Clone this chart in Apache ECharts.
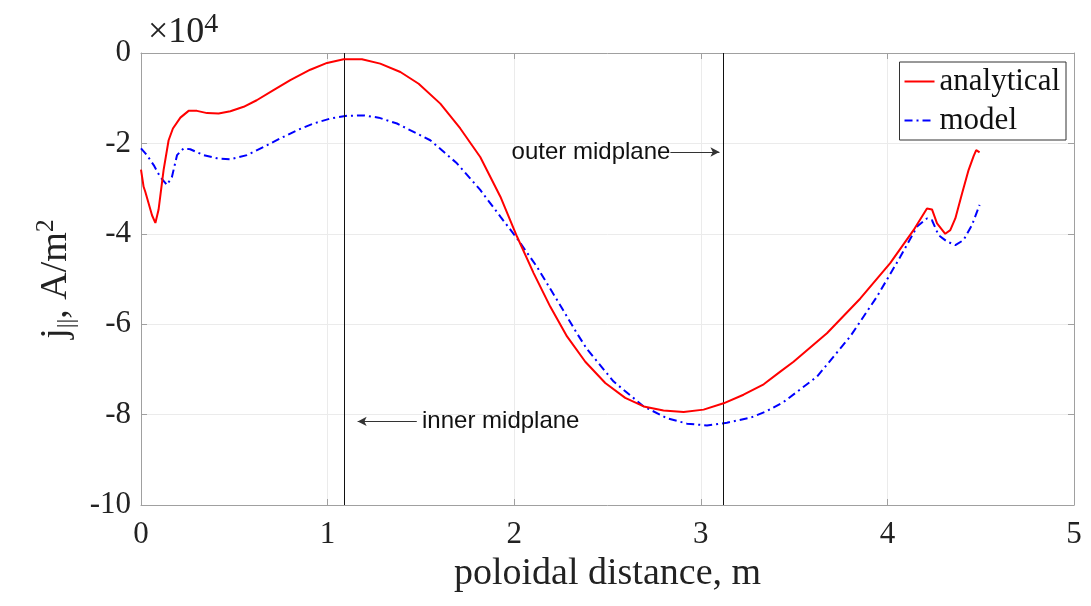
<!DOCTYPE html>
<html>
<head>
<meta charset="utf-8">
<script src="https://cdn.jsdelivr.net/npm/echarts@6/dist/echarts.min.js"></script>
<style>
html,body{margin:0;padding:0;background:#fff;}
#chart{width:1091px;height:606px;}
</style>
</head>
<body>
<div id="chart"></div>
<script>
// values in units of 10^4 A/m^2
const analyticalX = [0, 0.014, 0.023, 0.041, 0.059, 0.077, 0.094, 0.121, 0.148, 0.171, 0.211, 0.255, 0.30, 0.354, 0.416, 0.479, 0.55, 0.62, 0.71, 0.80, 0.907, 0.997, 1.086, 1.184, 1.282, 1.39, 1.488, 1.604, 1.711, 1.818, 1.926, 2.015, 2.104, 2.193, 2.283, 2.381, 2.488, 2.595, 2.694, 2.80, 2.908, 3.015, 3.122, 3.229, 3.337, 3.426, 3.497, 3.676, 3.855, 4.015, 4.14, 4.212, 4.239, 4.266, 4.31, 4.337, 4.364, 4.40, 4.435, 4.462, 4.476, 4.494];
const analyticalY = [-2.58, -2.96, -3.07, -3.33, -3.59, -3.76, -3.47, -2.59, -1.93, -1.67, -1.43, -1.28, -1.28, -1.33, -1.34, -1.29, -1.19, -1.045, -0.82, -0.60, -0.37, -0.22, -0.14, -0.14, -0.235, -0.42, -0.68, -1.12, -1.67, -2.30, -3.18, -4.06, -4.87, -5.61, -6.27, -6.83, -7.30, -7.63, -7.82, -7.91, -7.94, -7.89, -7.75, -7.56, -7.33, -7.05, -6.83, -6.20, -5.43, -4.65, -3.92, -3.44, -3.46, -3.77, -4.00, -3.92, -3.66, -3.11, -2.59, -2.28, -2.15, -2.20];
const modelX = [0, 0.032, 0.068, 0.103, 0.139, 0.166, 0.193, 0.228, 0.264, 0.336, 0.407, 0.479, 0.568, 0.657, 0.746, 0.836, 0.925, 1.014, 1.104, 1.193, 1.274, 1.372, 1.55, 1.693, 1.818, 1.926, 2.015, 2.122, 2.229, 2.336, 2.39, 2.533, 2.694, 2.819, 2.926, 3.033, 3.14, 3.265, 3.355, 3.444, 3.623, 3.801, 3.944, 4.069, 4.159, 4.212, 4.239, 4.274, 4.319, 4.364, 4.408, 4.453, 4.494];
const modelY = [-2.11, -2.26, -2.48, -2.74, -2.92, -2.74, -2.26, -2.11, -2.13, -2.26, -2.33, -2.35, -2.26, -2.08, -1.89, -1.71, -1.56, -1.45, -1.39, -1.38, -1.43, -1.56, -1.93, -2.44, -3.03, -3.62, -4.10, -4.73, -5.46, -6.20, -6.55, -7.27, -7.82, -8.08, -8.20, -8.24, -8.18, -8.07, -7.92, -7.72, -7.16, -6.27, -5.39, -4.51, -3.84, -3.66, -3.70, -4.03, -4.17, -4.25, -4.14, -3.81, -3.36];
const seriesNames = ['analytical', 'model'];
const midplaneX = [1.086, 3.124];
const annotationTexts = ['inner midplane', 'outer midplane'];
const xTicks = {min: 0, max: 5, interval: 1};
const yTicks = {min: -10, max: 0, interval: 2};

// annotation anchors (data coordinates)
const innerNote = {textX: 1.506, y: -8.15, from: 1.478, to: 1.161};
const outerNote = {textX: 2.837, y: -2.19, from: 2.837, to: 3.10};

const serif = '"Liberation Serif", "Times New Roman", serif';
const sans = '"Liberation Sans", Helvetica, Arial, sans-serif';
const axisGray = '#a0a0a0';

const pairs = (xs, ys) => xs.map((x, i) => [x, ys[i]]);

const chart = echarts.init(document.getElementById('chart'), null, {renderer: 'canvas'});

const baseAxis = {
  type: 'value',
  axisLine: {show: true, onZero: false, lineStyle: {color: axisGray, width: 1}},
  axisTick: {show: true, inside: true, length: 6, lineStyle: {color: axisGray}},
};

chart.setOption({
  animation: false,
  backgroundColor: '#fff',
  title: {
    text: '{a|×10}{b|4}',
    left: 143, top: 6,
    textStyle: {
      fontWeight: 'normal',
      rich: {
        a: {fontFamily: serif, fontSize: 36, fontWeight: 'normal', color: '#222', lineHeight: 44},
        b: {fontFamily: serif, fontSize: 28, fontWeight: 'normal', color: '#222', lineHeight: 28, verticalAlign: 'top'}
      }
    }
  },
  grid: {left: 141, right: 17, top: 53, bottom: 101, containLabel: false},
  legend: {
    data: seriesNames,
    orient: 'vertical',
    right: 25, top: 62,
    padding: [1, 6, 1, 4],
    itemGap: 2,
    itemWidth: 30, itemHeight: 14,
    itemStyle: {opacity: 0},
    backgroundColor: '#fff',
    borderColor: '#333', borderWidth: 1,
    textStyle: {fontFamily: serif, fontSize: 31, color: '#111', lineHeight: 37}
  },
  xAxis: [
    Object.assign({}, baseAxis, {
      min: xTicks.min, max: xTicks.max, interval: xTicks.interval,
      position: 'bottom',
      splitLine: {show: true, lineStyle: {color: '#ebebeb', width: 1}},
      axisLabel: {fontFamily: serif, fontSize: 31, color: '#222', margin: 14},
      name: 'poloidal distance, m',
      nameLocation: 'middle', nameGap: 48,
      nameTextStyle: {fontFamily: serif, fontSize: 38, color: '#222'}
    }),
    Object.assign({}, baseAxis, {
      min: xTicks.min, max: xTicks.max, interval: xTicks.interval,
      position: 'top',
      splitLine: {show: false}, axisLabel: {show: false}
    })
  ],
  yAxis: [
    Object.assign({}, baseAxis, {
      min: yTicks.min, max: yTicks.max, interval: yTicks.interval,
      position: 'left',
      splitLine: {show: true, lineStyle: {color: '#ebebeb', width: 1}},
      axisLabel: {fontFamily: serif, fontSize: 31, color: '#222', margin: 10},
      name: '{a|j}{s|||}{a|, A/m}{p|2}',
      nameLocation: 'middle', nameRotate: 90, nameGap: 62,
      nameTextStyle: {
        rich: {
          a: {fontFamily: serif, fontSize: 38, color: '#222', lineHeight: 46},
          s: {fontFamily: serif, fontSize: 24, color: '#222', lineHeight: 20, verticalAlign: 'bottom'},
          p: {fontFamily: serif, fontSize: 26, color: '#222', lineHeight: 24, verticalAlign: 'top'}
        }
      }
    }),
    Object.assign({}, baseAxis, {
      min: yTicks.min, max: yTicks.max, interval: yTicks.interval,
      position: 'right',
      splitLine: {show: false}, axisLabel: {show: false}
    })
  ],
  series: [
    {
      name: seriesNames[0],
      type: 'line',
      data: pairs(analyticalX, analyticalY),
      showSymbol: false, symbol: 'none',
      lineStyle: {color: '#ff0000', width: 2},
      itemStyle: {color: '#ff0000'},
      z: 5,
      markLine: {
        silent: true, symbol: 'none', animation: false,
        label: {show: false},
        lineStyle: {color: '#111', width: 1, type: 'solid'},
        data: midplaneX.map(v => ({xAxis: v}))
      }
    },
    {
      name: seriesNames[1],
      type: 'line',
      data: pairs(modelX, modelY),
      showSymbol: false, symbol: 'none',
      lineStyle: {color: '#0000ff', width: 2, type: [8, 4, 2, 4]},
      itemStyle: {color: '#0000ff'},
      z: 4,
      markLine: {
        silent: true, animation: false,
        symbol: ['none', 'arrow'], symbolSize: [7, 9],
        label: {show: false},
        lineStyle: {color: '#333', width: 1, type: 'solid'},
        data: [
          [{coord: [innerNote.from, innerNote.y]}, {coord: [innerNote.to, innerNote.y]}],
          [{coord: [outerNote.from, outerNote.y]}, {coord: [outerNote.to, outerNote.y]}]
        ]
      },
      markPoint: {
        silent: true, animation: false,
        symbol: 'circle', symbolSize: 0,
        data: [
          {coord: [innerNote.textX, innerNote.y], value: annotationTexts[0],
           label: {show: true, position: 'right', distance: 0, formatter: annotationTexts[0],
                   fontFamily: sans, fontSize: 24, color: '#111'}},
          {coord: [outerNote.textX, outerNote.y], value: annotationTexts[1],
           label: {show: true, position: 'left', distance: 0, formatter: annotationTexts[1],
                   fontFamily: sans, fontSize: 24, color: '#111'}}
        ]
      }
    }
  ]
});
</script>
</body>
</html>
